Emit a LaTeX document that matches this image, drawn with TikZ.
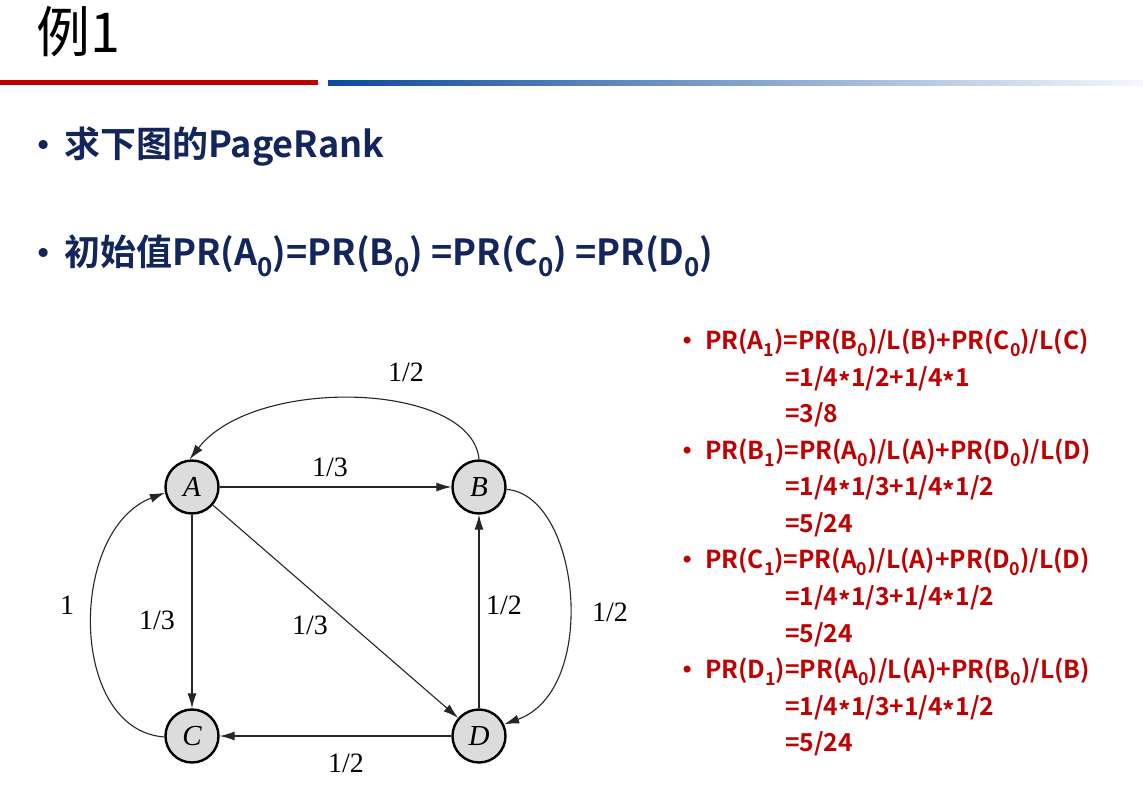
\documentclass[tikz,border=0pt]{standalone}
\usepackage{fontspec}
\usetikzlibrary{arrows.meta}
\setmainfont{Liberation Serif}
\newfontfamily\cjkfont{Noto Sans CJK SC}
\newfontfamily\cjkbold{Noto Sans CJK SC}[BoldFont={* Bold}]
\newfontfamily\symfont{DejaVu Sans}
\definecolor{navy}{RGB}{18,38,92}
\definecolor{darkred}{RGB}{192,0,0}
\definecolor{barblue}{RGB}{11,74,158}
\definecolor{nodegray}{RGB}{220,220,220}
\newcommand\lowsub[1]{\raisebox{-0.32em}{\scalebox{0.72}{#1}}}
\newcommand\tms{\raisebox{-0.22em}{*}}
\tikzset{
  vertex/.style={circle, draw=black, line width=2.4pt, fill=nodegray,
    minimum size=53pt, inner sep=0pt, font=\fontsize{29}{29}\selectfont\itshape},
  link/.style={line width=1.1pt, draw=black!85,
    -{Latex[length=15pt,width=9pt]}},
  weight/.style={font=\fontsize{28}{28}\selectfont, inner sep=1pt},
  headline/.style={anchor=base west, inner sep=0pt, text=navy,
    font=\cjkbold\bfseries\fontsize{36}{36}\selectfont},
  calcline/.style={anchor=base west, inner sep=0pt, text=darkred,
    font=\cjkbold\bfseries\fontsize{24.7}{24.7}\selectfont},
  dot/.style={anchor=base west, inner sep=0pt, font=\symfont\fontsize{24}{24}\selectfont},
  bigdot/.style={dot, font=\symfont\fontsize{31}{31}\selectfont}
}
\begin{document}
\begin{tikzpicture}[x=1pt,y=-1pt]
\useasboundingbox (0,0) rectangle (1143,808);
\fill[white] (0,0) rectangle (1143,808);

% title and rule
\node[anchor=base west, inner sep=0pt, font=\cjkfont\fontsize{55}{55}\selectfont,
  xscale=0.98] (title) at (36,53) {例1};
\fill[darkred] (0,80) rectangle (318,85);
\shade[left color=barblue, right color=barblue!4] (328,80) rectangle (1143,85);

% bullet lines
\node[bigdot, text=navy] (b1) at (34,156) {•};
\node[headline] (h1) at (64,157) {求下图的PageRank};
\node[bigdot, text=navy] (b2) at (34,264) {•};
\node[headline] (h2) at (64,265) {初始值PR(A\lowsub{0})=PR(B\lowsub{0}) =PR(C\lowsub{0}) =PR(D\lowsub{0})};

% graph
\node[vertex] (A) at (192,487) {A};
\node[vertex] (B) at (479,487) {B};
\node[vertex] (C) at (192,736) {C};
\node[vertex] (D) at (479,736) {D};

\draw[link] (A) -- (B);
\draw[link] (A) -- (C);
\draw[link] (A) -- (D);
\draw[link] (D) -- (B);
\draw[link] (D) -- (C);
\draw[link] (B.north) .. controls (472,382) and (255,375) .. (A.95);
\draw[link] (B.-5) .. controls (580,495) and (600,690) .. (D.25);
\draw[link] (C.182) .. controls (68,730) and (68,530) .. (A.192);

\node[weight] (wBA) at (406,372) {1/2};
\node[weight] (wAB) at (330,467) {1/3};
\node[weight] (wAC) at (157,620) {1/3};
\node[weight] (wAD) at (310,625) {1/3};
\node[weight] (wDB) at (504,605) {1/2};
\node[weight] (wBD) at (610,612) {1/2};
\node[weight] (wDC) at (346,763) {1/2};
\node[weight] (wCA) at (67,605) {1};

% computation
\node[dot, text=darkred] (r1) at (680,349) {•};
\node[calcline] (l1) at (705,349) {PR(A\lowsub{1})=PR(B\lowsub{0})/L(B)+PR(C\lowsub{0})/L(C)};
\node[calcline] (l2) at (785,386) {=1/4\tms1/2+1/4\tms1};
\node[calcline] (l3) at (785,422) {=3/8};
\node[dot, text=darkred] (r2) at (680,459) {•};
\node[calcline] (l4) at (705,459) {PR(B\lowsub{1})=PR(A\lowsub{0})/L(A)+PR(D\lowsub{0})/L(D)};
\node[calcline] (l5) at (785,495) {=1/4\tms1/3+1/4\tms1/2};
\node[calcline] (l6) at (785,532) {=5/24};
\node[dot, text=darkred] (r3) at (680,568) {•};
\node[calcline] (l7) at (705,568) {PR(C\lowsub{1})=PR(A\lowsub{0})/L(A)+PR(D\lowsub{0})/L(D)};
\node[calcline] (l8) at (785,605) {=1/4\tms1/3+1/4\tms1/2};
\node[calcline] (l9) at (785,642) {=5/24};
\node[dot, text=darkred] (r4) at (680,678) {•};
\node[calcline] (l10) at (705,678) {PR(D\lowsub{1})=PR(A\lowsub{0})/L(A)+PR(B\lowsub{0})/L(B)};
\node[calcline] (l11) at (785,715) {=1/4\tms1/3+1/4\tms1/2};
\node[calcline] (l12) at (785,751) {=5/24};
\end{tikzpicture}
\end{document}
